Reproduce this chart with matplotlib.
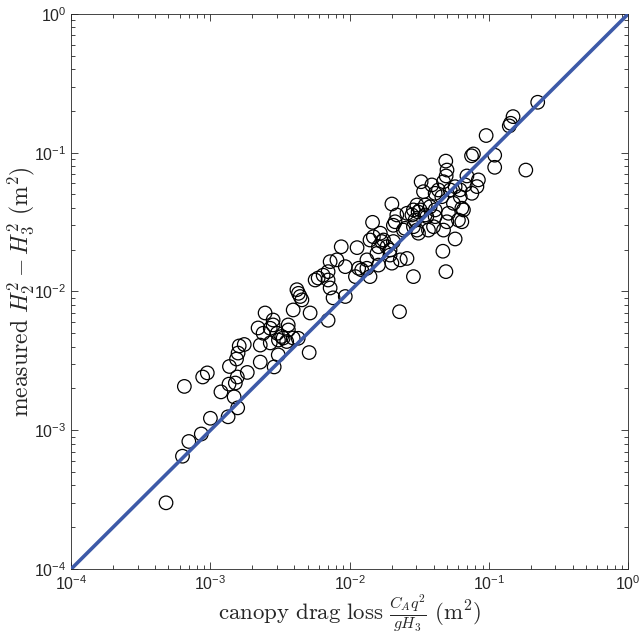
import numpy as np
import matplotlib
matplotlib.use("Agg")
import matplotlib.pyplot as plt
from matplotlib.ticker import LogLocator, NullFormatter

# canopy drag loss C_A q^2 / (g H3) (m^2) and measured H2^2 - H3^2 (m^2)
drag_loss = [
    4.8e-4, 6.3e-4, 7.0e-4, 8.6e-4, 1.0e-3, 1.34e-3, 1.57e-3, 1.48e-3, 1.19e-3, 6.5e-4,
    8.8e-4, 9.5e-4, 1.37e-3, 1.84e-3, 1.51e-3, 1.36e-3, 1.56e-3, 1.58e-3, 1.54e-3, 1.61e-3,
    1.75e-3, 2.28e-3, 2.87e-3, 3.07e-3, 2.28e-3, 2.69e-3, 2.2e-3, 2.39e-3, 2.82e-3, 3.02e-3,
    3.33e-3, 3.62e-3, 3.93e-3, 4.27e-3, 5.12e-3, 2.47e-3, 2.82e-3, 3.25e-3, 3.53e-3, 4.18e-3,
    4.29e-3, 4.41e-3, 4.54e-3, 3.93e-3, 5.2e-3, 7.0e-3, 7.24e-3, 8.1e-3, 9.3e-3, 7.0e-3,
    6.45e-3, 5.94e-3, 5.65e-3, 7.0e-3, 7.24e-3, 7.6e-3, 9.3e-3, 8.7e-3, 1.13e-2, 1.16e-2,
    1.22e-2, 1.33e-2, 1.40e-2, 1.10e-2, 1.33e-2, 1.46e-2, 1.48e-2, 1.66e-2, 1.75e-2, 1.61e-2,
    1.85e-2, 2.06e-2, 1.57e-2, 1.95e-2, 2.31e-2, 2.58e-2, 2.01e-2, 2.87e-2, 2.28e-2, 2.01e-2,
    2.12e-2, 2.18e-2, 2.58e-2, 2.87e-2, 2.95e-2, 2.87e-2, 1.40e-2, 1.95e-2, 4.9e-2, 5.0e-2,
    4.93e-2, 4.72e-2, 6.95e-2, 6.75e-2, 8.4e-2, 8.2e-2, 6.2e-2, 3.26e-2, 3.89e-2, 3.39e-2,
    4.11e-2, 5.27e-2, 6.22e-2, 5.56e-2, 6.39e-2, 3.04e-2, 3.49e-2, 3.78e-2, 3.21e-2, 4.11e-2,
    3.1e-2, 2.8e-2, 3.49e-2, 4.11e-2, 5.12e-2, 6.56e-2, 3.58e-2, 4.99e-2, 6.39e-2, 4.0e-2,
    3.04e-2, 2.43e-2, 4.72e-2, 5.72e-2, 4.67e-2, 4.91e-2, 3.12e-2, 3.68e-2, 6.04e-2, 4.59e-2,
    7.54e-2, 4.34e-2, 5.72e-2, 7.74e-2, 0.224, 0.149, 0.143, 0.140, 9.55e-2, 7.5e-2,
    0.110, 0.110, 0.184, 2.06e-2, 2.5e-2, 1.7e-2, 1.61e-2, 2.69e-3, 3.63e-3, 3.08e-3,
]
measured = [
    3.0e-4, 6.5e-4, 8.3e-4, 9.4e-4, 1.22e-3, 1.25e-3, 1.45e-3, 1.74e-3, 1.89e-3, 2.07e-3,
    2.42e-3, 2.59e-3, 2.88e-3, 2.61e-3, 2.19e-3, 2.15e-3, 2.42e-3, 3.6e-3, 3.26e-3, 4.05e-3,
    4.15e-3, 3.1e-3, 2.86e-3, 3.49e-3, 4.11e-3, 4.26e-3, 5.46e-3, 5.0e-3, 5.74e-3, 5.0e-3,
    4.62e-3, 5.74e-3, 4.62e-3, 4.6e-3, 3.63e-3, 7.0e-3, 6.23e-3, 4.74e-3, 4.36e-3, 1.03e-2,
    9.7e-3, 9.2e-3, 8.7e-3, 7.36e-3, 7.0e-3, 6.2e-3, 1.64e-2, 1.69e-2, 1.51e-2, 1.39e-2,
    1.31e-2, 1.25e-2, 1.21e-2, 1.21e-2, 1.06e-2, 9.0e-3, 9.2e-3, 2.1e-2, 2.07e-2, 1.47e-2,
    1.43e-2, 1.47e-2, 1.28e-2, 1.28e-2, 1.69e-2, 3.15e-2, 2.48e-2, 2.63e-2, 2.35e-2, 2.1e-2,
    2.1e-2, 2.29e-2, 1.88e-2, 1.83e-2, 1.69e-2, 1.73e-2, 1.60e-2, 1.28e-2, 7.15e-3, 4.27e-2,
    3.18e-2, 3.56e-2, 3.66e-2, 3.87e-2, 3.27e-2, 2.93e-2, 2.35e-2, 1.99e-2, 8.7e-2, 7.5e-2,
    6.8e-2, 6.18e-2, 6.8e-2, 5.86e-2, 6.37e-2, 5.7e-2, 5.4e-2, 6.18e-2, 5.86e-2, 5.24e-2,
    5.1e-2, 5.39e-2, 4.82e-2, 4.32e-2, 3.98e-2, 4.2e-2, 4.2e-2, 4.08e-2, 3.87e-2, 3.87e-2,
    3.74e-2, 3.56e-2, 3.56e-2, 3.46e-2, 3.66e-2, 3.87e-2, 3.46e-2, 3.18e-2, 3.18e-2, 2.93e-2,
    2.77e-2, 2.77e-2, 2.77e-2, 2.39e-2, 1.95e-2, 1.39e-2, 2.63e-2, 2.77e-2, 3.27e-2, 4.82e-2,
    5.1e-2, 5.39e-2, 5.69e-2, 9.8e-2, 0.231, 0.182, 0.163, 0.156, 0.133, 9.5e-2,
    9.6e-2, 7.85e-2, 7.5e-2, 3.0e-2, 2.85e-2, 2.29e-2, 1.55e-2, 5.43e-3, 5.28e-3, 4.47e-3,
]

# 1:1 reference line
one_to_one = [1e-4, 1.0]

plt.rcParams["font.family"] = ["Liberation Sans", "DejaVu Sans"]
plt.rcParams["mathtext.fontset"] = "cm"
plt.rcParams["axes.formatter.use_mathtext"] = True

axis_gray = "#262626"

fig = plt.figure(figsize=(6.41, 6.34), dpi=100)
ax = fig.add_axes([0.111, 0.1025, 0.869, 0.8755])

ax.plot(one_to_one, one_to_one, color="#3d5aa8", linewidth=2.6, zorder=3)
ax.scatter(drag_loss, measured, s=95, facecolors="none", edgecolors="black",
           linewidths=0.9, zorder=2)

ax.set_xscale("log")
ax.set_yscale("log")
ax.set_xlim(1e-4, 1)
ax.set_ylim(1e-4, 1)

for axis in (ax.xaxis, ax.yaxis):
    axis.set_major_locator(LogLocator(base=10, numticks=10))
    axis.set_minor_locator(LogLocator(base=10, subs=np.arange(2, 10), numticks=20))
    axis.set_minor_formatter(NullFormatter())

ax.tick_params(which="both", direction="in", top=True, right=True, color=axis_gray,
               labelcolor=axis_gray, labelsize=11.5)
ax.tick_params(which="major", length=5, width=0.6)
ax.tick_params(which="minor", length=3, width=0.6)
for spine in ax.spines.values():
    spine.set_color(axis_gray)
    spine.set_linewidth(0.6)

ax.set_xlabel(r"$\mathrm{canopy\ drag\ loss}\ \frac{C_A q^2}{g H_3}\ (\mathrm{m}^2)$",
              fontsize=16.5, color=axis_gray)
ax.set_ylabel(r"$\mathrm{measured}\ H_2^2 - H_3^2\ (\mathrm{m}^2)$",
              fontsize=17, color=axis_gray)
ax.xaxis.set_label_coords(0.5, -0.042)
ax.yaxis.set_label_coords(-0.062, 0.5)

fig.savefig("out.png", dpi=100)
